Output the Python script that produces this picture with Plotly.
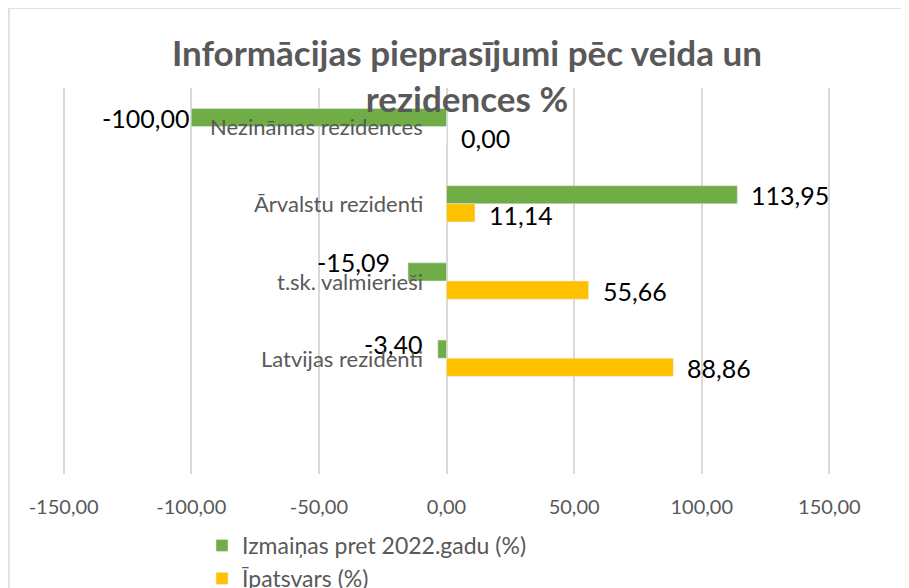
import plotly.graph_objects as go

categories = ["Latvijas rezidenti", "t.sk. valmierieši", "Ārvalstu rezidenti", "Nezināmas rezidences"]
change_vs_2022 = [-3.40, -15.09, 113.95, -100.00]
share = [88.86, 55.66, 11.14, 0.00]
series_names = ["Izmaiņas pret 2022.gadu (%)", "Īpatsvars (%)"]
tick_vals = [-150, -100, -50, 0, 50, 100, 150]
tick_labels = ["-150,00", "-100,00", "-50,00", "0,00", "50,00", "100,00", "150,00"]
title_text = "Informācijas pieprasījumi pēc veida un<br>rezidences %"

GREEN = "#70AD47"
YELLOW = "#FFC000"
GRAY = "#595959"
GRID = "#D9D9D9"
FONT = "Lato"

W, H = 909, 588
OFF = 8  # page body offset compensation
# plot area in reference pixels: x 62..831, y 88..474
X0, X1, Y0, Y1 = 62, 831, 88, 474
L, R, T, B = X0 - OFF, W - (X1 - OFF), Y0 - OFF, H - (Y1 - OFF)
pw, ph = X1 - X0, Y1 - Y0

bar_w = 0.235

fig = go.Figure()
fig.add_trace(go.Bar(
    y=categories, x=change_vs_2022, orientation="h", name=series_names[0],
    marker=dict(color=GREEN), width=bar_w, offset=0.0,
))
fig.add_trace(go.Bar(
    y=categories, x=share, orientation="h", name=series_names[1],
    marker=dict(color=YELLOW), width=bar_w, offset=-bar_w,
))

def fmt(v):
    return f"{v:.2f}".replace(".", ",")

def px_to_paper_x(px):
    return (px - X0) / pw

def px_to_paper_y(py):
    return (Y1 - py) / ph

# label offsets (px) per point: (xshift, yshift) -- styling only
green_shift = [(-14, 14), (-16, 19), (12, 9), (0, 9)]
yellow_shift = [(12, -10), (12, -10), (12, -11), (12, -11)]

annotations = []
for i, c in enumerate(categories):
    v = change_vs_2022[i]
    xs, ys = green_shift[i]
    annotations.append(dict(
        x=v, y=c, xref="x", yref="y", text=fmt(v), showarrow=False,
        xanchor="left" if v >= 0 else "right", xshift=xs, yshift=ys,
        font=dict(family=FONT, size=25, color="#000000"),
    ))
    v2 = share[i]
    xs, ys = yellow_shift[i]
    annotations.append(dict(
        x=v2, y=c, xref="x", yref="y", text=fmt(v2), showarrow=False,
        xanchor="left", xshift=xs, yshift=ys,
        font=dict(family=FONT, size=25, color="#000000"),
    ))
    annotations.append(dict(
        x=0, y=c, xref="x", yref="y", text=c, showarrow=False,
        xanchor="right", xshift=-22, yshift=0,
        font=dict(family=FONT, size=22, color=GRAY),
    ))

annotations.append(dict(
    text=title_text, xref="paper", yref="paper",
    x=px_to_paper_x(467), y=px_to_paper_y(75), xanchor="center", yanchor="middle",
    showarrow=False, align="center",
    font=dict(family=FONT, size=35, color=GRAY, weight="bold"),
))

fig.update_layout(
    width=W, height=H,
    margin=dict(l=L, r=R, t=T, b=B, autoexpand=False),
    paper_bgcolor="white", plot_bgcolor="white",
    barmode="group",
    showlegend=True,
    legend=dict(
        orientation="v", x=px_to_paper_x(202), xanchor="left",
        y=px_to_paper_y(524), yanchor="top",
        font=dict(family=FONT, size=23, color=GRAY),
        bgcolor="rgba(0,0,0,0)", tracegroupgap=0,
    ),
    xaxis=dict(
        range=[-150.65, 150.65], tickvals=tick_vals, ticktext=tick_labels,
        showgrid=True, gridcolor=GRID, gridwidth=1.5,
        zeroline=True, zerolinecolor=GRID, zerolinewidth=1.5,
        showline=False, ticks="",
        tickfont=dict(family=FONT, size=20, color=GRAY),
        ticklabelstandoff=19,
    ),
    yaxis=dict(
        categoryorder="array", categoryarray=categories,
        range=[-1.5, 3.5], showticklabels=False, showgrid=False,
        zeroline=False, showline=False, ticks="",
    ),
    annotations=annotations,
    shapes=[dict(
        type="rect", xref="paper", yref="paper",
        x0=px_to_paper_x(9), x1=px_to_paper_x(960),
        y0=px_to_paper_y(640), y1=px_to_paper_y(8),
        line=dict(color=GRID, width=1.5), fillcolor="rgba(0,0,0,0)", layer="below",
    )],
)

fig.write_html("out.html")
